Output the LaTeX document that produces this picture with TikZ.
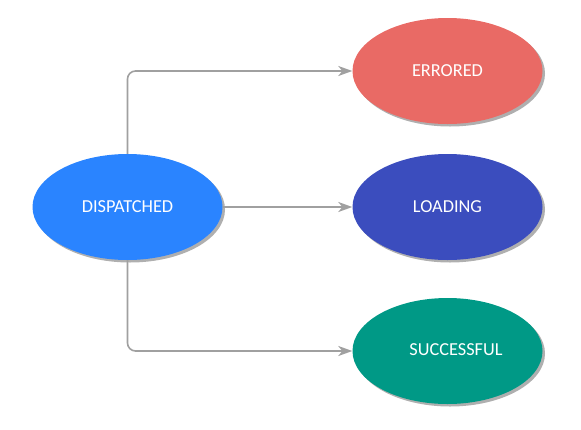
\documentclass[tikz,border=0pt]{standalone}
\usepackage{fontspec}
\setmainfont{Carlito}
\usetikzlibrary{shadows,arrows.meta,shapes.geometric}
\definecolor{cdisp}{HTML}{2A84FF}
\definecolor{cerr}{HTML}{E96A65}
\definecolor{cload}{HTML}{3B4DBE}
\definecolor{csucc}{HTML}{009986}
\definecolor{cline}{HTML}{A0A0A0}
\tikzset{
  state/.style={ellipse, minimum width=190pt, minimum height=106pt, inner sep=0pt,
    font=\fontsize{18.3}{21}\selectfont, text=white,
    drop shadow={shadow xshift=2.5pt, shadow yshift=-2.5pt, fill=black!35, opacity=0.9}},
  conn/.style={draw=cline, line width=1.6pt, rounded corners=8pt,
    -{Stealth[length=14pt, width=10pt, inset=4pt]}},
  lbl/.style={font=\fontsize{18.3}{21}\selectfont, text=white, inner sep=0pt}
}
\begin{document}
\begin{tikzpicture}[x=1pt,y=1pt]
\useasboundingbox (0,0) rectangle (581,-429);
\node[state, fill=cdisp] (disp) at (127.5,-207) {DISPATCHED};
\node[state, fill=cerr] (err) at (447.5,-71) {ERRORED};
\node[state, fill=cload] (load) at (447.5,-207) {LOADING};
\node[state, fill=csucc] (succ) at (447.5,-351) {};
\node[lbl] (succtxt) at (456,-350) {SUCCESSFUL};
\draw[conn] (disp.north) |- (err.west);
\draw[conn] (disp.east) -- (load.west);
\draw[conn] (disp.south) |- (succ.west);
\end{tikzpicture}
\end{document}
